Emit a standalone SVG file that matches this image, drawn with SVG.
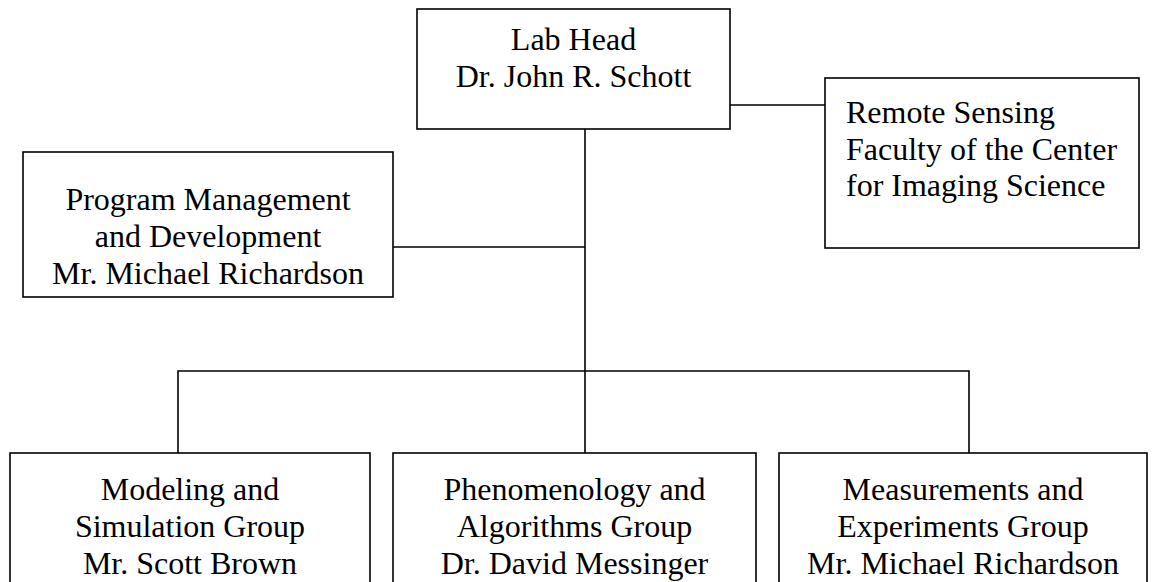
<svg xmlns="http://www.w3.org/2000/svg" width="1153" height="582" viewBox="0 0 1153 582">
<style>
.box{fill:#fff;stroke:#000;stroke-width:1.6}
.ln{fill:none;stroke:#000;stroke-width:1.6}
text{font-family:"Liberation Serif","Times New Roman",serif;font-size:32px;fill:#000}
.c{text-anchor:middle}
</style>
<rect width="1153" height="582" fill="#fff"/>
<g id="connectors">
<path class="ln" d="M730 105H825"/>
<path class="ln" d="M585 129V371"/>
<path class="ln" d="M393 247H585"/>
<path class="ln" d="M178 453V371H969V453"/>
<path class="ln" d="M585 371V453"/>
</g>
<g id="lab-head">
<rect class="box" x="417" y="9" width="313" height="120"/>
<text class="c" x="573.5" y="50">Lab Head</text>
<text class="c" x="573.5" y="87">Dr. John R. Schott</text>
</g>
<g id="remote-sensing">
<rect class="box" x="825" y="78" width="314" height="170"/>
<text x="846" y="123">Remote Sensing</text>
<text x="846" y="160">Faculty of the Center</text>
<text x="846" y="196">for Imaging Science</text>
</g>
<g id="program-management">
<rect class="box" x="23" y="152" width="370" height="145"/>
<text class="c" x="208" y="210">Program Management</text>
<text class="c" x="208" y="247">and Development</text>
<text class="c" x="208" y="284">Mr. Michael Richardson</text>
</g>
<g id="modeling">
<rect class="box" x="10" y="453" width="360" height="160"/>
<text class="c" x="190" y="500">Modeling and</text>
<text class="c" x="190" y="537">Simulation Group</text>
<text class="c" x="190" y="574">Mr. Scott Brown</text>
</g>
<g id="phenomenology">
<rect class="box" x="393" y="453" width="363" height="160"/>
<text class="c" x="574.5" y="500">Phenomenology and</text>
<text class="c" x="574.5" y="537">Algorithms Group</text>
<text class="c" x="574.5" y="574">Dr. David Messinger</text>
</g>
<g id="measurements">
<rect class="box" x="779" y="453" width="368" height="160"/>
<text class="c" x="963" y="500">Measurements and</text>
<text class="c" x="963" y="537">Experiments Group</text>
<text class="c" x="963" y="574">Mr. Michael Richardson</text>
</g>
</svg>
